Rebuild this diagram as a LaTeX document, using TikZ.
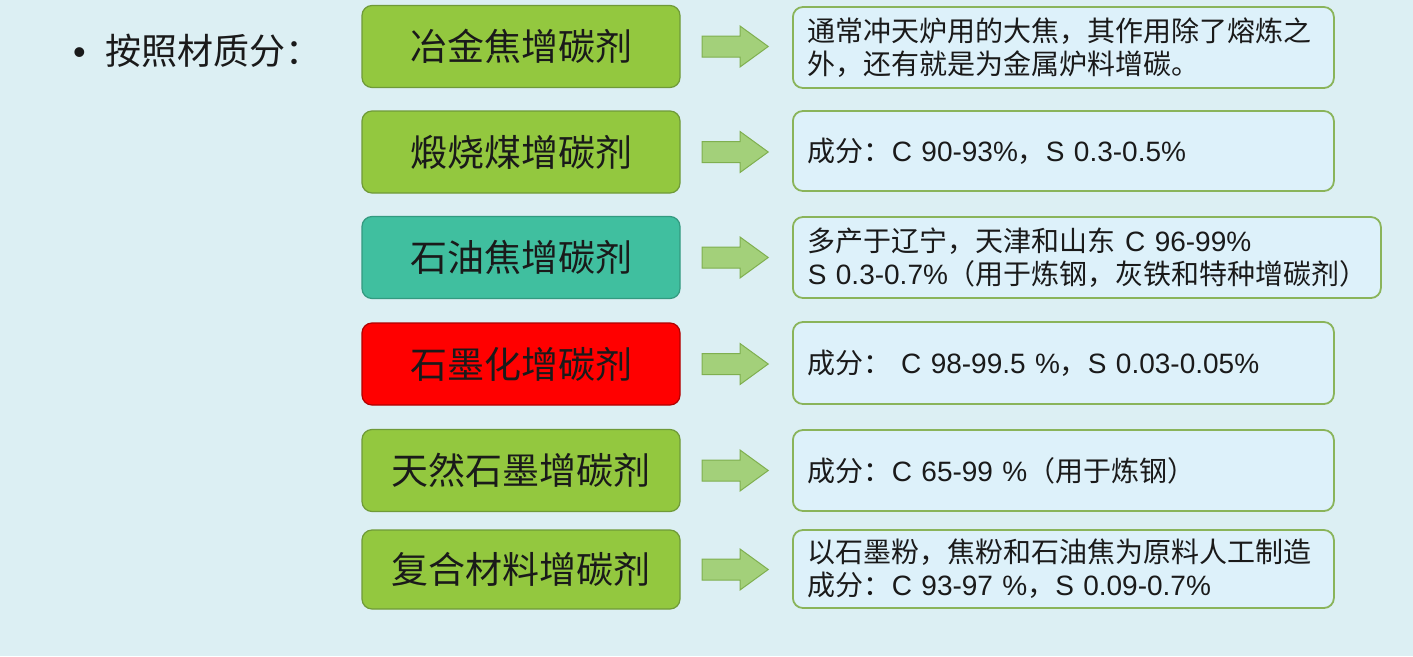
\documentclass[tikz,border=0pt]{standalone}
\usepackage{fontspec}
\setmainfont{Noto Sans CJK SC}
\newfontfamily\latfont{Liberation Sans}
\newcommand{\la}[1]{{\latfont #1}}
\usetikzlibrary{shapes.arrows}
\definecolor{bg}{HTML}{DCEFF3}
\definecolor{lgreen}{HTML}{93C83F}
\definecolor{lgreenb}{HTML}{6F9A38}
\definecolor{teal}{HTML}{40BF9F}
\definecolor{tealb}{HTML}{339A80}
\definecolor{redf}{HTML}{FF0000}
\definecolor{redb}{HTML}{B00000}
\definecolor{rfill}{HTML}{DDF1FA}
\definecolor{rborder}{HTML}{8AB45A}
\definecolor{afill}{HTML}{A3D07A}
\definecolor{adraw}{HTML}{7FAF4F}
\definecolor{txt}{HTML}{1A1A1A}
\begin{document}
\begin{tikzpicture}[x=1pt,y=-1pt,
  lbox/.style={draw=lgreenb, fill=lgreen, line width=1.2pt, rounded corners=10pt,
    minimum width=318pt, minimum height=82pt, inner sep=0pt, text=txt,
    font=\fontsize{37}{44}\selectfont},
  rbox/.style={draw=rborder, fill=rfill, line width=1.8pt, rounded corners=10pt,
    minimum height=80pt, anchor=west, align=left, inner xsep=15pt, inner ysep=0pt,
    text=txt, font=\fontsize{28}{33}\selectfont},
  rarrow/.style={single arrow, draw=adraw, fill=afill, line width=1pt,
    minimum height=66pt, single arrow head extend=10pt,
    single arrow tip angle=72, inner xsep=0pt, inner ysep=10pt}]
\fill[bg] (0,0) rectangle (1413,656);
\useasboundingbox (0,0) rectangle (1413,656);

\node[anchor=base west, text=txt, font=\fontsize{36}{40}\selectfont, inner sep=0pt] (title) at (73,64) {{\latfont •}\hspace{20pt}按照材质分：};

% left boxes
\node[lbox] (l1) at (521,46.5) {冶金焦增碳剂};
\node[lbox] (l2) at (521,152) {煅烧煤增碳剂};
\node[lbox, fill=teal, draw=tealb] (l3) at (521,257.5) {石油焦增碳剂};
\node[lbox, fill=redf, draw=redb] (l4) at (521,364) {石墨化增碳剂};
\node[lbox] (l5) at (521,470.5) {天然石墨增碳剂};
\node[lbox, minimum height=79pt] (l6) at (521,569.5) {复合材料增碳剂};

% arrows
\node[rarrow] (a1) at (728,46.5) {};
\node[rarrow] (a2) at (728,152) {};
\node[rarrow] (a3) at (728,257.5) {};
\node[rarrow] (a4) at (728,364) {};
\node[rarrow] (a5) at (728,470.5) {};
\node[rarrow] (a6) at (728,569.5) {};

% right boxes
\node[rbox, text width=511pt, minimum height=81pt] (r1) at (792,47.5) {通常冲天炉用的大焦，其作用除了熔炼之\\外，还有就是为金属炉料增碳。};
\node[rbox, text width=511pt] (r2) at (792,151) {成分：\la{C 90-93\%}，\la{S 0.3-0.5\%}};
\node[rbox, text width=558pt, minimum height=81pt] (r3) at (792,257.5) {多产于辽宁，天津和山东 \la{C 96-99\%}\\\la{S 0.3-0.7\%}（用于炼钢，灰铁和特种增碳剂）};
\node[rbox, text width=511pt, minimum height=82pt] (r4) at (792,363) {成分：\la{ C 98-99.5 \%}，\la{S 0.03-0.05\%}};
\node[rbox, text width=511pt, minimum height=81pt] (r5) at (792,470.5) {成分：\la{C 65-99 \%}（用于炼钢）};
\node[rbox, text width=511pt, minimum height=78pt] (r6) at (792,569) {以石墨粉，焦粉和石油焦为原料人工制造\\成分：\la{C 93-97 \%}，\la{S 0.09-0.7\%}};
\end{tikzpicture}
\end{document}
